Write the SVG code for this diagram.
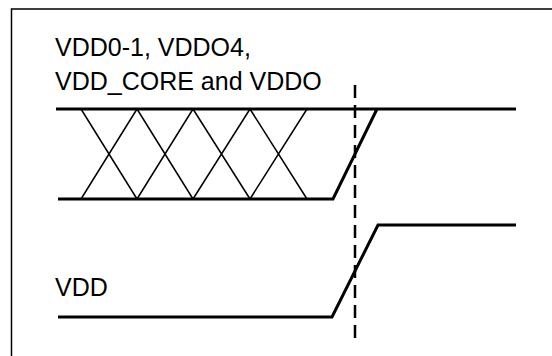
<svg xmlns="http://www.w3.org/2000/svg" width="552" height="356" viewBox="0 0 552 356">
<style>
.lbl{font-family:"Liberation Sans",Arial,sans-serif;font-size:25px;fill:#000}
.sig{fill:none;stroke:#000;stroke-width:3;stroke-linejoin:miter;stroke-linecap:butt}
.x{fill:none;stroke:#000;stroke-width:1.5}
.dash{fill:none;stroke:#000;stroke-width:2.5;stroke-dasharray:13 7}
</style>
<rect width="552" height="356" fill="#fff"/>
<rect x="11.5" y="9" width="600" height="400" fill="none" stroke="#000" stroke-width="1.5"/>
<g id="label-top">
<text class="lbl" x="55" y="56">VDD0-1, VDDO4,</text>
<text class="lbl" x="55" y="90">VDD_CORE and VDDO</text>
</g>
<g id="label-vdd">
<text class="lbl" x="55" y="296">VDD</text>
</g>
<g id="signal-top">
<polyline class="sig" points="56,109 516,109"/>
<polyline class="sig" points="58,199 333,199 377,109"/>
<path class="x" d="M81,109L137,199M137,109L81,199M137,109L193,199M193,109L137,199M193,109L250,199M250,109L193,199M250,109L307,199M307,109L250,199"/>
</g>
<g id="signal-vdd">
<polyline class="sig" points="58,317 332,317 378,225 516,225"/>
</g>
<g id="connectors">
<line class="dash" x1="355" y1="85" x2="355" y2="340"/>
</g>
</svg>
